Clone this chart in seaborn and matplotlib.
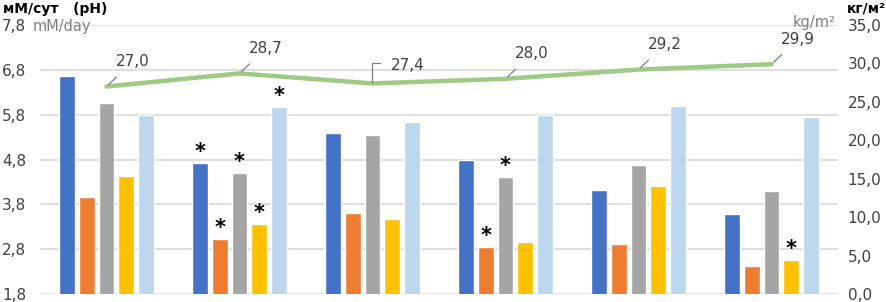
import numpy as np
import pandas as pd
import matplotlib
matplotlib.use("Agg")
import matplotlib.pyplot as plt
import seaborn as sns

groups = ["G1", "G2", "G3", "G4", "G5", "G6"]
series = ["S1", "S2", "S3", "S4", "S5"]
s1 = [6.66, 4.72, 5.39, 4.79, 4.12, 3.58]
s2 = [3.96, 3.03, 3.61, 2.85, 2.92, 2.42]
s3 = [6.06, 4.50, 5.35, 4.41, 4.68, 4.10]
s4 = [4.43, 3.36, 3.47, 2.96, 4.21, 2.56]
s5 = [5.79, 5.97, 5.64, 5.79, 5.99, 5.75]
line_vals = [27.0, 28.7, 27.4, 28.0, 29.2, 29.9]
line_labels = ["27,0", "28,7", "27,4", "28,0", "29,2", "29,9"]
left_ticks = [1.8, 2.8, 3.8, 4.8, 5.8, 6.8, 7.8]
left_ticklabels = ["1,8", "2,8", "3,8", "4,8", "5,8", "6,8", "7,8"]
right_ticks = [0, 5, 10, 15, 20, 25, 30, 35]
right_ticklabels = ["0,0", "5,0", "10,0", "15,0", "20,0", "25,0", "30,0", "35,0"]
# (group index, series index) pairs marked with asterisk
stars = [(1, 0), (1, 1), (1, 2), (1, 3), (1, 4), (3, 1), (3, 2), (5, 3)]

colors = ["#4472C4", "#ED7D31", "#A5A5A5", "#FFC000", "#BDD7EE"]
all_vals = [s1, s2, s3, s4, s5]

rows = []
for si, vals in enumerate(all_vals):
    for gi, v in enumerate(vals):
        rows.append({"group": groups[gi], "series": series[si], "value": v})
df = pd.DataFrame(rows)

sns.set_theme(style="white")
plt.rcParams['font.family'] = ['DejaVu Sans']

fig = plt.figure(figsize=(8.86, 3.02), dpi=100)
ax = fig.add_axes([40/886, 8/302, 798/886, 269/302])
sns.barplot(data=df, x="group", y="value", hue="series", order=groups,
            hue_order=series, palette=colors, width=0.75, gap=0.2,
            ax=ax, legend=False, saturation=1)
ax.set_xlim(-0.5, 5.5)
ax.set_ylim(1.8, 7.8)
ax.set_yticks(left_ticks)
ax.set_yticklabels(left_ticklabels, color="#404040", fontsize=11)
ax.set_xticks([])
ax.set_xlabel("")
ax.set_ylabel("")
ax.tick_params(axis="y", length=0, pad=10)
for sp in ax.spines.values():
    sp.set_visible(False)
ax.grid(axis="y", color="#D9D9D9", linewidth=1.2)
ax.set_axisbelow(True)

# asterisks
for gi, si in stars:
    x = gi - 0.375 + 0.15 * si + 0.075
    ax.text(x, all_vals[si][gi] + 0.02, "*", ha="center", va="bottom",
            fontsize=15, fontweight="bold", color="black")

ax2 = ax.twinx()
ldf = pd.DataFrame({"x": np.arange(len(groups)), "y": line_vals})
sns.lineplot(data=ldf, x="x", y="y", ax=ax2, color="#9DCB83", linewidth=3.2)
ax2.set_ylim(0, 35)
ax2.set_xlim(-0.5, 5.5)
ax2.set_yticks(right_ticks)
ax2.set_yticklabels(right_ticklabels, color="#404040", fontsize=11)
ax2.tick_params(axis="y", length=0, pad=7)
ax2.set_xlabel("")
ax2.set_ylabel("")
for sp in ax2.spines.values():
    sp.set_visible(False)

for i, (v, lab) in enumerate(zip(line_vals, line_labels)):
    if i == 2:
        ax2.annotate(lab, xy=(i, v), xytext=(13, 13), textcoords="offset points",
                     ha="left", va="center", fontsize=11, color="#404040")
        ax2.plot([i, i, i + 0.06], [v, v + 2.6, v + 2.6], color="#808080", lw=0.9)
    else:
        ax2.annotate(lab, xy=(i, v), xytext=(19, 18), textcoords="offset points",
                     ha="center", va="center", fontsize=11, color="#404040",
                     arrowprops=dict(arrowstyle="-", color="#808080", lw=0.9,
                                     shrinkA=5, shrinkB=2))

fig.text(3/886, 1 - 9/302, "мМ/сут   (pH)", fontsize=10, fontweight="bold",
         color="black", va="center", ha="left")
fig.text(33/886, 1 - 26/302, "mM/day", fontsize=10.5, color="#808080",
         va="center", ha="left")
fig.text(886/886, 1 - 8/302, "кг/м²", fontsize=10, fontweight="bold",
         color="black", va="center", ha="right")
fig.text(836/886, 1 - 22/302, "kg/m²", fontsize=10.5, color="#808080",
         va="center", ha="right")

fig.savefig("out.png", dpi=100)
